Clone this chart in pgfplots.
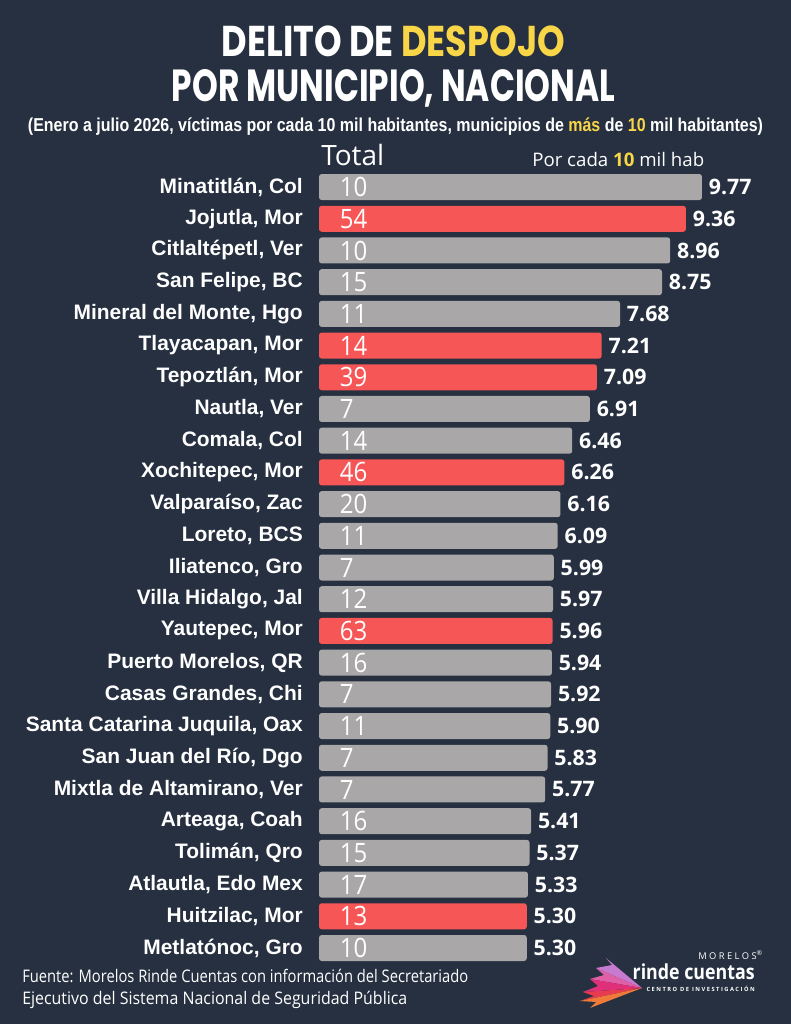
\documentclass[border=0pt]{standalone}
\usepackage{fontspec}
\setmainfont{Open Sans}
\newfontfamily\nombres{Liberation Sans}
\newfontfamily\titulo{Poppins}
\usepackage{graphicx}
\usepackage{pgfplots}
\usepackage{pgfplotstable}
\pgfplotsset{compat=1.18}

\definecolor{fondo}{HTML}{263040}
\definecolor{gris}{HTML}{A9A7A7}
\definecolor{rojo}{HTML}{F65656}
\definecolor{amarillo}{HTML}{F8D648}
\definecolor{logoa}{HTML}{C77BD0}
\definecolor{logob}{HTML}{E060A8}
\definecolor{logoc}{HTML}{E0307A}
\definecolor{logod}{HTML}{E83A50}
\definecolor{logoe}{HTML}{F07A3A}

% y = fila, v = victimas por cada 10 mil hab, t = total
\pgfplotstableread{
y v t
1 9.77 10
3 8.96 10
4 8.75 15
5 7.68 11
8 6.91 7
9 6.46 14
11 6.16 20
12 6.09 11
13 5.99 7
14 5.97 12
16 5.94 16
17 5.92 7
18 5.90 11
19 5.83 7
20 5.77 7
21 5.41 16
22 5.37 15
23 5.33 17
25 5.30 10
}\grises
\pgfplotstableread{
y v t
2 9.36 54
6 7.21 14
7 7.09 39
10 6.26 46
15 5.96 63
24 5.30 13
}\rojos

\begin{document}
\begin{tikzpicture}
\begin{scope}[x=0.75pt,y=0.75pt]
\fill[fondo] (0,0) rectangle (791,-1024);
\coordinate (ax) at (319,-963.85);

% titulo
\node[anchor=base,inner sep=0pt,text=white] at (393.5,-57)
  {\resizebox{257.25pt}{23pt}{\titulo\bfseries DELITO DE \textcolor{amarillo}{DESPOJO}}};
\node[anchor=base,inner sep=0pt,text=white] at (393.5,-101)
  {\resizebox{332.25pt}{24pt}{\titulo\bfseries POR MUNICIPIO, NACIONAL}};
\node[anchor=base,inner sep=0pt,text=white] at (395.5,-132)
  {\resizebox{551.25pt}{\height}{\nombres\bfseries\fontsize{14}{16}\selectfont (Enero a julio 2026, víctimas por cada 10 mil habitantes, municipios de \textcolor{amarillo}{más} de \textcolor{amarillo}{10} mil habitantes)}};

% encabezados
\node[anchor=base west,inner sep=0pt,text=white,font=\fontsize{21}{24}\selectfont] at (321,-165) {Total};
\node[anchor=base west,inner sep=0pt,text=white,font=\fontsize{14}{16}\selectfont] at (532,-166) {Por cada \textcolor{amarillo}{\bfseries 10} mil hab};

% fuente
\node[anchor=base west,inner sep=0pt,text=white] at (22,-982)
  {\resizebox{334.5pt}{\height}{\fontsize{13}{15}\selectfont Fuente: Morelos Rinde Cuentas con información del Secretariado}};
\node[anchor=base west,inner sep=0pt,text=white] at (22,-1004)
  {\resizebox{288.75pt}{\height}{\fontsize{13}{15}\selectfont Ejecutivo del Sistema Nacional de Seguridad Pública}};

% logo
\fill[logoa] (606,-958) -- (612,-965) -- (596,-968) -- (642,-988) -- cycle;
\fill[logob] (596,-968) -- (604,-975) -- (590,-979) -- (642,-988) -- cycle;
\fill[logoc] (590,-979) -- (598,-986) -- (583,-992) -- (642,-988) -- cycle;
\fill[logod] (583,-992) -- (594,-996) -- (580,-1001) -- (642,-988) -- cycle;
\fill[logoe] (580,-1001) -- (596,-1002) -- (590,-1008) -- (642,-988) -- cycle;
\node[anchor=base east,inner sep=0pt,text=white,font=\fontsize{7}{8}\selectfont] at (757,-959) {M O R E L O S\rlap{\raisebox{3pt}{\fontsize{5}{5}\selectfont®}}};
\node[anchor=base east,inner sep=0pt,text=white] at (755,-979)
  {\resizebox{91.5pt}{\height}{\bfseries\fontsize{15.5}{17}\selectfont rinde cuentas}};
\node[anchor=base east,inner sep=0pt,text=white,font=\bfseries\fontsize{4.3}{5}\selectfont] at (755,-991) {C E N T R O\ \ D E\ \ I N V E S T I G A C I Ó N};
\end{scope}

\begin{axis}[
    at={(ax)}, anchor=south west,
    scale only axis,
    width=294pt, height=594.5pt,
    xmin=0, xmax=10,
    ymin=0.5, ymax=25.5,
    y dir=reverse,
    axis line style={draw=none},
    xtick=\empty,
    ytick={1,...,25},
    yticklabels={{Minatitlán, Col},{Jojutla, Mor},{Citlaltépetl, Ver},{San Felipe, BC},
      {Mineral del Monte, Hgo},{Tlayacapan, Mor},{Tepoztlán, Mor},{Nautla, Ver},
      {Comala, Col},{Xochitepec, Mor},{Valparaíso, Zac},{Loreto, BCS},{Iliatenco, Gro},
      {Villa Hidalgo, Jal},{Yautepec, Mor},{Puerto Morelos, QR},{Casas Grandes, Chi},
      {Santa Catarina Juquila, Oax},{San Juan del Río, Dgo},{Mixtla de Altamirano, Ver},
      {Arteaga, Coah},{Tolimán, Qro},{Atlautla, Edo Mex},{Huitzilac, Mor},{Metlatónoc, Gro}},
    major tick length=0pt,
    yticklabel style={font=\nombres\bfseries\fontsize{15.7}{17}\selectfont, text=white, inner sep=0pt, xshift=-12pt},
    /pgf/number format/assume math mode=true,
    clip=false,
    valor/.style={nodes near coords={\pgfmathprintnumber[fixed,fixed zerofill,precision=2]{\pgfplotspointmeta}},
      point meta=x,
      every node near coord/.append style={anchor=west, inner sep=0pt, xshift=5pt, text=white,
        font=\bfseries\fontsize{16}{18}\selectfont}},
    total/.style={draw=none, mark=none, nodes near coords={\scalebox{0.9}[1]{\pgfplotspointmeta}},
      point meta=explicit symbolic,
      every node near coord/.append style={anchor=west, inner sep=0pt, xshift=15.5pt, text=white,
        font=\fontsize{20}{22}\selectfont}},
]
\addplot[xbar, bar shift=0pt, bar width=19.5pt, fill=gris, draw=none, rounded corners=2pt, valor]
  table[x=v, y=y] {\grises};
\addplot[xbar, bar shift=0pt, bar width=19.5pt, fill=rojo, draw=none, rounded corners=2pt, valor]
  table[x=v, y=y] {\rojos};
\addplot[total] table[x expr=0, y=y, meta=t] {\grises};
\addplot[total] table[x expr=0, y=y, meta=t] {\rojos};
\end{axis}
\end{tikzpicture}
\end{document}
